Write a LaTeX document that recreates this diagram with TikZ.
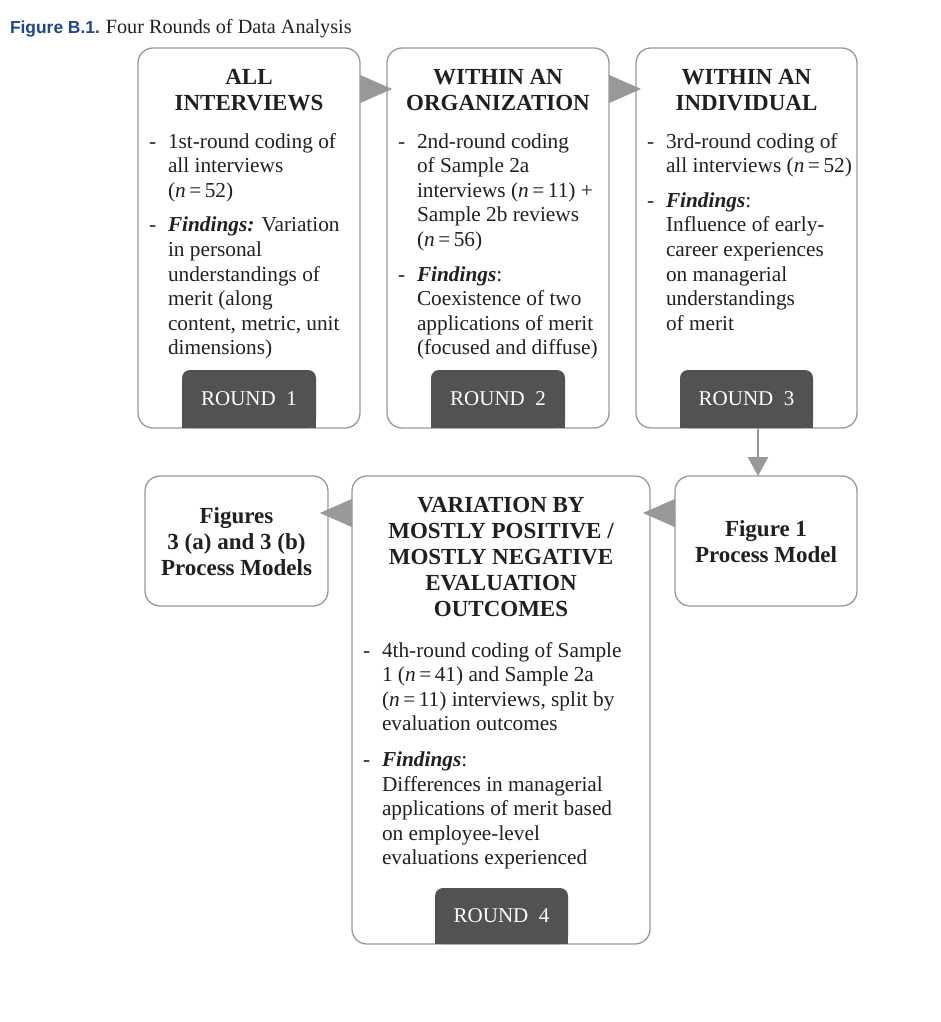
\documentclass[tikz,border=0pt]{standalone}
\usepackage{fontspec}
\setmainfont{Liberation Serif}
\setsansfont{Liberation Sans}
\usepackage{tikz}
\usetikzlibrary{arrows.meta}
\definecolor{boxgray}{RGB}{152,152,152}
\definecolor{tabgray}{RGB}{82,82,84}
\definecolor{inkblack}{RGB}{35,31,32}
\definecolor{figblue}{RGB}{30,70,140}
\newcommand{\dsh}{\makebox[19pt][l]{-}}
\newcommand{\ind}{\hspace*{19pt}}
\newcommand{\nn}[1]{(\textit{n}\,=\,#1)}
\newcommand{\fnd}{\textbf{\textit{Findings}}}
\begin{document}
\begin{tikzpicture}[x=1pt,y=-1pt,inner sep=0pt,outer sep=0pt,text=inkblack]
\tikzstyle{stage}=[draw=boxgray,line width=1.3pt,rounded corners=15pt,fill=white];
\tikzstyle{roundtab}=[fill=tabgray,rounded corners=8pt,text=white,font=\fontsize{21}{25}\selectfont];
\tikzstyle{hdr}=[anchor=north,align=center,font=\bfseries\fontsize{23}{26}\selectfont];
\tikzstyle{txt}=[anchor=north west,align=left,font=\fontsize{21.3}{24.6}\selectfont];
\tikzstyle{push}=[draw=boxgray,line width=0.5pt,-{Triangle[length=32pt,width=28pt]}];
\tikzstyle{drop}=[draw=boxgray,line width=2.6pt,-{Triangle[length=19pt,width=20pt]}];
\useasboundingbox (0,0) rectangle (941,1022);
\node [anchor=base west] (cap) at (10,34) {{\sffamily\bfseries\fontsize{17.4}{20}\selectfont\color{figblue}Figure B.1.}\hspace{6pt}\fontsize{20.2}{24}\selectfont Four Rounds of Data Analysis};

% round boxes
\node [stage,minimum width=222pt,minimum height=380pt] (b1) at (249,238) {};
\node [stage,minimum width=222pt,minimum height=380pt] (b2) at (498,238) {};
\node [stage,minimum width=221pt,minimum height=380pt] (b3) at (746.5,238) {};
\node [stage,minimum width=298pt,minimum height=468pt] (b4) at (501,710) {};
\node [stage,minimum width=183pt,minimum height=130pt] (fig3) at (236.5,541) {};
\node [stage,minimum width=182pt,minimum height=130pt] (fig1) at (766,541) {};

% tabs
\node [roundtab,minimum width=134pt,minimum height=58pt] (r1) at (249,399) {ROUND\ \ 1};
\node [roundtab,minimum width=134pt,minimum height=58pt] (r2) at (498,399) {ROUND\ \ 2};
\node [roundtab,minimum width=133pt,minimum height=58pt] (r3) at (746.5,399) {ROUND\ \ 3};
\node [roundtab,minimum width=133pt,minimum height=56pt] (r4) at (501.5,916) {ROUND\ \ 4};
\fill [tabgray] ([yshift=10pt]r1.south west) rectangle (r1.south east);
\fill [tabgray] ([yshift=10pt]r2.south west) rectangle (r2.south east);
\fill [tabgray] ([yshift=10pt]r3.south west) rectangle (r3.south east);
\fill [tabgray] ([yshift=10pt]r4.south west) rectangle (r4.south east);

% headings
\node [hdr] (h1) at (249,66.8) {\strut ALL\\INTERVIEWS};
\node [hdr] (h2) at (498,66.8) {\strut WITHIN AN\\ORGANIZATION};
\node [hdr] (h3) at (746.5,66.8) {\strut WITHIN AN\\INDIVIDUAL};
\node [hdr] (h4) at (501,493.8) {\strut VARIATION BY\\MOSTLY POSITIVE /\\MOSTLY NEGATIVE\\EVALUATION\\OUTCOMES};
\node [hdr] (t3) at (236.5,504.8) {\strut Figures\\3 (a) and 3 (b)\\Process Models};
\node [hdr] (t1) at (766,517.8) {\strut Figure 1\\Process Model};

% contents
\node [txt] (c1) at (149,130.8) {\strut\dsh 1st-round coding of\\ \ind all interviews\\ \ind \nn{52}\\[10pt]
\dsh \textbf{\textit{Findings:}} Variation\\ \ind in personal\\ \ind understandings of\\ \ind merit (along\\ \ind content, metric, unit\\ \ind dimensions)};
\node [txt] (c2) at (398,130.8) {\strut\dsh 2nd-round coding\\ \ind of Sample 2a\\ \ind interviews \nn{11} +\\ \ind Sample 2b reviews\\ \ind \nn{56}\\[10pt]
\dsh \fnd:\\ \ind Coexistence of two\\ \ind applications of merit\\ \ind (focused and diffuse)};
\node [txt] (c3) at (647,130.8) {\strut\dsh 3rd-round coding of\\ \ind all interviews \nn{52}\\[10pt]
\dsh \fnd:\\ \ind Influence of early-\\ \ind career experiences\\ \ind on managerial\\ \ind understandings\\ \ind of merit};
\node [txt] (c4) at (363,639.8) {\strut\dsh 4th-round coding of Sample\\ \ind 1 \nn{41} and Sample 2a\\ \ind \nn{11} interviews, split by\\ \ind evaluation outcomes\\[11pt]
\dsh \fnd:\\ \ind Differences in managerial\\ \ind applications of merit based\\ \ind on employee-level\\ \ind evaluations experienced};

% arrows
\draw [push] ([yshift=-41pt]b1.north east) -- ([yshift=-41pt,xshift=5pt]b2.north west);
\draw [push] ([yshift=-41pt]b2.north east) -- ([yshift=-41pt,xshift=5pt]b3.north west);
\draw [drop] ([xshift=11.5pt]r3.south) -- ([xshift=-8pt]fig1.north);
\draw [push] ([yshift=-37pt]fig1.north west) -- ([yshift=-37pt,xshift=-7pt]b4.north east);
\draw [push] ([yshift=-37pt]b4.north west) -- ([yshift=-37pt,xshift=-8pt]fig3.north east);
\end{tikzpicture}
\end{document}
